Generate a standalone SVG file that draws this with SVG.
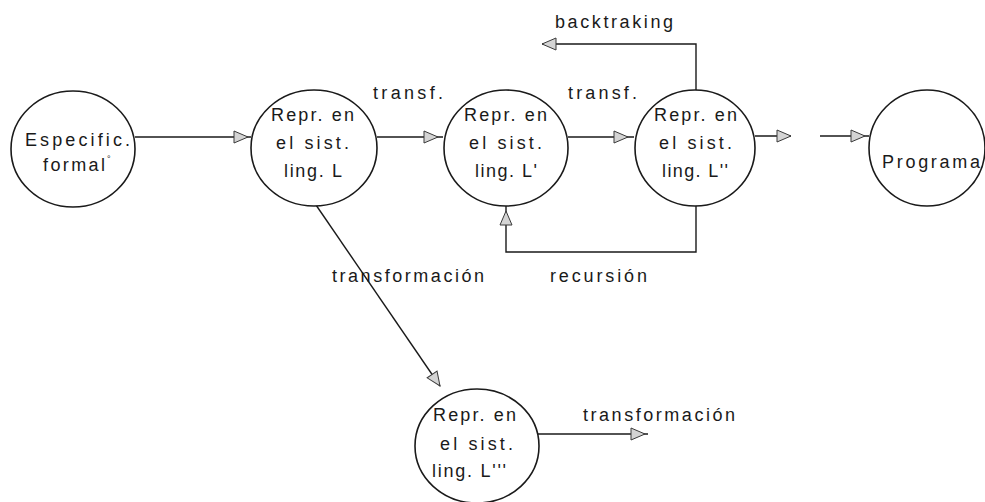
<svg xmlns="http://www.w3.org/2000/svg" xmlns:xlink="http://www.w3.org/1999/xlink" width="985" height="502" viewBox="0 0 985 502">
<style>
.node{fill:#fff;stroke:#1a1a1a;stroke-width:1.6}
.lbl{font-family:"Liberation Sans",Arial,sans-serif;font-size:18px;fill:#1a1a1a}
.edge{fill:none;stroke:#1a1a1a;stroke-width:1.4}
.ah{fill:#d4d4d4;stroke:#3a3a3a;stroke-width:1}
</style>
<defs>
<path id="ah" class="ah" d="M-14,-6 L0,0 L-14,6 Z"/>
</defs>
<rect width="985" height="502" fill="#fff"/>

<g id="connectors">
  <path class="edge" d="M135,137 H251"/>
  <path class="edge" d="M377,137 H443"/>
  <path class="edge" d="M568,137 H634"/>
  <path class="edge" d="M696,91 V44 H542"/>
  <path class="edge" d="M696,205 V252 H506 V206"/>
  <path class="edge" d="M755,136 H791"/>
  <path class="edge" d="M820,136 H869"/>
  <path class="edge" d="M316,205 L440,386"/>
  <path class="edge" d="M538,434 H648"/>
  <use xlink:href="#ah" transform="translate(248,137)"/>
  <use xlink:href="#ah" transform="translate(438,137)"/>
  <use xlink:href="#ah" transform="translate(628,137)"/>
  <use xlink:href="#ah" transform="translate(542,44) rotate(180)"/>
  <use xlink:href="#ah" transform="translate(506,211) rotate(-90)"/>
  <use xlink:href="#ah" transform="translate(791,136)"/>
  <use xlink:href="#ah" transform="translate(865,136)"/>
  <use xlink:href="#ah" transform="translate(440,386) rotate(55.6)"/>
  <use xlink:href="#ah" transform="translate(645,434)"/>
  <text class="lbl" x="373" y="99" textLength="70" lengthAdjust="spacing">transf.</text>
  <text class="lbl" x="568" y="99" textLength="69" lengthAdjust="spacing">transf.</text>
  <text class="lbl" x="555" y="28" textLength="118" lengthAdjust="spacing">backtraking</text>
  <text class="lbl" x="332" y="282" textLength="152" lengthAdjust="spacing">transformación</text>
  <text class="lbl" x="550" y="282" textLength="97" lengthAdjust="spacing">recursión</text>
  <text class="lbl" x="583" y="421" textLength="152" lengthAdjust="spacing">transformación</text>
</g>

<g id="n-especific">
  <ellipse class="node" cx="73" cy="149" rx="62" ry="58"/>
  <text class="lbl" x="25" y="146" textLength="105" lengthAdjust="spacing">Especific.</text>
  <text class="lbl" x="43" y="171" textLength="62" lengthAdjust="spacing">formal</text>
  <text class="lbl" x="107" y="162" style="font-size:9px">°</text>
</g>

<g id="n-L">
  <ellipse class="node" cx="314" cy="148" rx="63" ry="58"/>
  <text class="lbl" x="271" y="121" textLength="83" lengthAdjust="spacing">Repr. en</text>
  <text class="lbl" x="276" y="149" textLength="73" lengthAdjust="spacing">el sist.</text>
  <text class="lbl" x="284" y="177" textLength="58" lengthAdjust="spacing">ling. L</text>
</g>

<g id="n-L1">
  <ellipse class="node" cx="506" cy="148" rx="62" ry="58"/>
  <text class="lbl" x="464" y="121" textLength="83" lengthAdjust="spacing">Repr. en</text>
  <text class="lbl" x="469" y="149" textLength="73" lengthAdjust="spacing">el sist.</text>
  <text class="lbl" x="475" y="177" textLength="62" lengthAdjust="spacing">ling. L'</text>
</g>

<g id="n-L2">
  <ellipse class="node" cx="695" cy="148" rx="60" ry="58"/>
  <text class="lbl" x="654" y="121" textLength="83" lengthAdjust="spacing">Repr. en</text>
  <text class="lbl" x="659" y="149" textLength="73" lengthAdjust="spacing">el sist.</text>
  <text class="lbl" x="662" y="177" textLength="66" lengthAdjust="spacing">ling. L''</text>
</g>

<g id="n-programa">
  <ellipse class="node" cx="927" cy="148" rx="58" ry="58"/>
  <text class="lbl" x="882" y="168" textLength="98" lengthAdjust="spacing">Programa</text>
</g>

<g id="n-L3">
  <ellipse class="node" cx="477" cy="446" rx="62" ry="57"/>
  <text class="lbl" x="433" y="421" textLength="83" lengthAdjust="spacing">Repr. en</text>
  <text class="lbl" x="440" y="450" textLength="73" lengthAdjust="spacing">el sist.</text>
  <text class="lbl" x="432" y="477" textLength="74" lengthAdjust="spacing">ling. L'''</text>
</g>
</svg>
